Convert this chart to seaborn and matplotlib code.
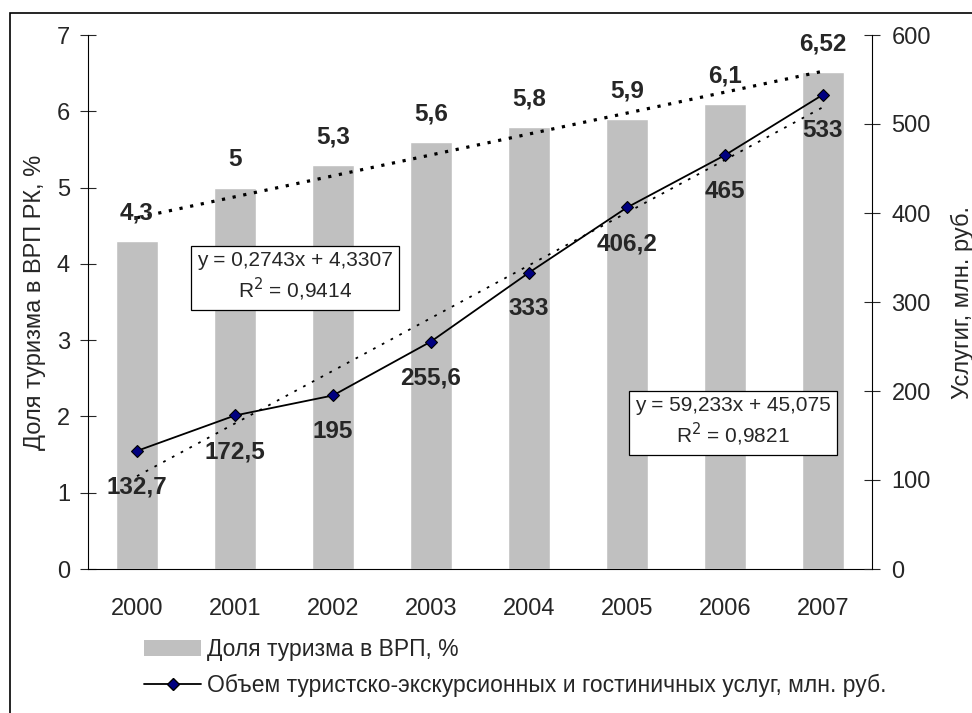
import numpy as np
import pandas as pd
import matplotlib
matplotlib.use('Agg')
import matplotlib.pyplot as plt
import seaborn as sb
from matplotlib.patches import Patch, Rectangle
from matplotlib.lines import Line2D

# data
years = ['2000', '2001', '2002', '2003', '2004', '2005', '2006', '2007']
share_vrp = [4.3, 5.0, 5.3, 5.6, 5.8, 5.9, 6.1, 6.52]
share_labels = ['4,3', '5', '5,3', '5,6', '5,8', '5,9', '6,1', '6,52']
services = [132.7, 172.5, 195, 255.6, 333, 406.2, 465, 533]
services_labels = ['132,7', '172,5', '195', '255,6', '333', '406,2', '465', '533']

# excel trendline coefficients (x = 1..8)
share_trend = (0.2743, 4.3307)
serv_trend = (59.233, 45.075)

sb.set_style('white')
plt.rcParams['font.family'] = ['Liberation Sans', 'DejaVu Sans']

df = pd.DataFrame({'year': years, 'share': share_vrp, 'serv': services})
pos = np.arange(len(years))
xn = pos + 1

W, H = 972, 713
fig = plt.figure(figsize=(W / 100, H / 100), dpi=100)
ax = fig.add_axes([88 / W, (H - 569) / H, (872 - 88) / W, (569 - 35) / H])

sb.barplot(data=df, x='year', y='share', color='#c0c0c0', width=0.42,
           saturation=1, ax=ax, zorder=1)
ax.set_ylim(0, 7)
ax.set_xlim(-0.5, 7.5)
ax.set_yticks(range(0, 8))
ax.set_xticks(np.arange(-0.5, 8, 1), minor=False)
ax.set_xticklabels([])
ax.set_xticks(pos, minor=True)
ax.set_xticklabels(years, minor=True)
ax.tick_params(axis='x', which='minor', length=0, labelsize=17, pad=21)
ax.tick_params(axis='x', which='major', direction='inout', length=12, width=0.8)
ax.tick_params(axis='y', direction='inout', length=12, width=0.8, labelsize=17, pad=7)
ax.set_xlabel('')
ax.set_ylabel('Доля туризма в ВРП РК, %', fontsize=17, labelpad=8)
for s in ['top', 'right']:
    ax.spines[s].set_visible(False)
for s in ['left', 'bottom']:
    ax.spines[s].set_color('black')
    ax.spines[s].set_linewidth(0.8)

# trend of bars
ax.plot(pos, share_trend[0] * xn + share_trend[1], color='black', lw=2.3,
        ls=(0, (1.0, 2.4)), zorder=3)

for i, lab in enumerate(share_labels):
    ax.annotate(lab, (pos[i], share_vrp[i]), xytext=(0, 20), textcoords='offset points',
                ha='center', va='center', fontsize=17.5, fontweight='bold', zorder=7)

ax2 = ax.twinx()
sb.lineplot(x=pos, y=services, ax=ax2, color='black', lw=1.3, marker='D',
            markersize=6.5, markerfacecolor='#000080', markeredgecolor='black',
            markeredgewidth=0.8, zorder=5)
ax2.plot(pos, serv_trend[0] * xn + serv_trend[1], color='black', lw=1.3,
         ls=(0, (1.5, 4)), zorder=4)
ax2.set_ylim(0, 600)
ax2.set_yticks(range(0, 700, 100))
ax2.tick_params(axis='y', direction='inout', length=12, width=0.8, labelsize=17, pad=8)
ax2.set_ylabel('Услугиг, млн. руб.', fontsize=17, labelpad=14)
for s in ['top', 'left', 'bottom']:
    ax2.spines[s].set_visible(False)
ax2.spines['right'].set_color('black')
ax2.spines['right'].set_linewidth(0.8)
ax2.set_xlim(-0.5, 7.5)

for i, lab in enumerate(services_labels):
    ax2.annotate(lab, (pos[i], services[i]), xytext=(0, -26), textcoords='offset points',
                 ha='center', va='center', fontsize=17.5, fontweight='bold', zorder=7)

box = dict(boxstyle='square,pad=0.3', facecolor='white', edgecolor='black', lw=0.9)
ax.text((295 - 88) / 784, (569 - 277) / 534, 'y = 0,2743x + 4,3307\nR$^2$ = 0,9414',
        transform=ax.transAxes, ha='center', va='center', fontsize=15, bbox=box,
        linespacing=1.3, zorder=6)
ax.text((733 - 88) / 784, (569 - 422) / 534, 'y = 59,233x + 45,075\nR$^2$ = 0,9821',
        transform=ax.transAxes, ha='center', va='center', fontsize=15, bbox=box,
        linespacing=1.3, zorder=6)

handles = [Patch(facecolor='#c0c0c0', edgecolor='none'),
           Line2D([], [], color='black', lw=1.3, marker='D', markersize=6,
                  markerfacecolor='#000080', markeredgecolor='black')]
fig.legend(handles, ['Доля туризма в ВРП, %',
                     'Объем туристско-экскурсионных и гостиничных услуг, млн. руб.'],
           loc='upper left', bbox_to_anchor=(135 / W, (H - 629) / H), frameon=False,
           fontsize=16.5, handlelength=2.5, handletextpad=0.25, labelspacing=0.55,
           borderaxespad=0)

fig.patches.append(Rectangle((10 / W, -0.01), 1.0, (H - 13) / H + 0.01,
                             transform=fig.transFigure, fill=False,
                             edgecolor='black', lw=1.2))

fig.savefig('out.png', dpi=100)
